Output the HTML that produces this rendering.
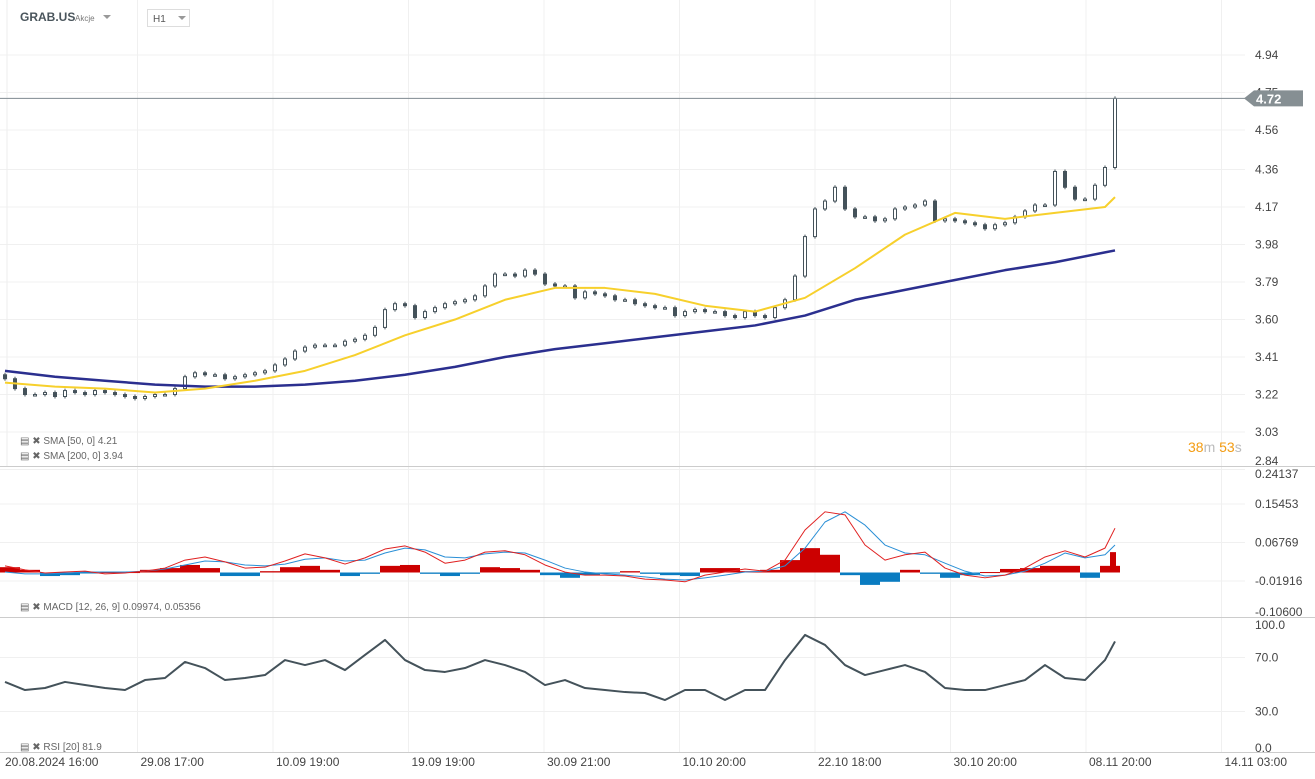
<!DOCTYPE html>
<html><head><meta charset="utf-8"><style>
body{margin:0;background:#fff;font-family:"Liberation Sans",sans-serif;}
svg{display:block}
</style></head><body>
<svg id="c" width="1315" height="779" xmlns="http://www.w3.org/2000/svg" font-family="Liberation Sans, sans-serif">
<g id="grid"></g>
<g>
 <line x1="7" y1="0" x2="7" y2="466" stroke="#eee"/>
 <text x="20" y="21" font-size="12" font-weight="bold" fill="#4a555c">GRAB.US</text>
 <text x="75" y="21" font-size="8" fill="#777">Akcje</text>
 <path d="M103 15 L111 15 L107 19 Z" fill="#999"/>
 <rect x="147.5" y="9.5" width="42" height="17" fill="#fff" stroke="#ddd"/>
 <text x="153" y="22" font-size="10" fill="#555">H1</text>
 <path d="M178 16 L186 16 L182 20 Z" fill="#999"/>
</g>
<g id="price"></g>
<g id="macd"></g>
<g id="rsi"></g>
<g id="axes"></g>
<g font-size="10" fill="#666">
 <text x="20" y="444">▤ ✖ SMA [50, 0] 4.21</text>
 <text x="20" y="459">▤ ✖ SMA [200, 0] 3.94</text>
 <text x="20" y="610">▤ ✖ MACD [12, 26, 9] 0.09974, 0.05356</text>
 <text x="20" y="750">▤ ✖ RSI [20] 81.9</text>
</g>
<g font-size="14">
 <text x="1188" y="452"><tspan fill="#f39c12">38</tspan><tspan fill="#bbb">m </tspan><tspan fill="#f39c12">53</tspan><tspan fill="#bbb">s</tspan></text>
</g>
</svg>
<script>
const closes=[3.30,3.25,3.22,3.22,3.23,3.21,3.24,3.23,3.22,3.24,3.23,3.22,3.21,3.20,3.21,3.22,3.22,3.25,3.31,3.33,3.32,3.32,3.30,3.31,3.32,3.33,3.34,3.37,3.40,3.44,3.46,3.47,3.47,3.47,3.49,3.50,3.52,3.56,3.65,3.68,3.67,3.61,3.64,3.66,3.68,3.69,3.70,3.72,3.77,3.83,3.83,3.82,3.85,3.83,3.78,3.77,3.77,3.71,3.74,3.73,3.72,3.70,3.70,3.68,3.67,3.66,3.66,3.62,3.64,3.65,3.64,3.64,3.62,3.61,3.64,3.62,3.61,3.66,3.70,3.82,4.02,4.16,4.20,4.27,4.16,4.12,4.12,4.10,4.11,4.16,4.17,4.18,4.20,4.10,4.11,4.10,4.09,4.08,4.06,4.08,4.09,4.12,4.15,4.18,4.18,4.35,4.27,4.21,4.21,4.28,4.37,4.72];
const sma50=[3.28,3.26,3.25,3.23,3.25,3.29,3.34,3.42,3.52,3.60,3.70,3.76,3.76,3.73,3.67,3.64,3.71,3.86,4.03,4.14,4.11,4.14,4.17,4.22];
const sma200=[3.34,3.31,3.29,3.27,3.26,3.26,3.27,3.29,3.32,3.36,3.41,3.45,3.48,3.51,3.54,3.57,3.62,3.70,3.75,3.80,3.85,3.89,3.94,3.95];
const macdLine=[0.015,0.006,-0.001,0.001,0.003,-0.003,-0.001,0.003,0.010,0.028,0.035,0.024,0.010,0.012,0.026,0.042,0.033,0.019,0.033,0.053,0.060,0.046,0.021,0.028,0.046,0.049,0.040,0.017,0.001,-0.006,-0.006,-0.008,-0.015,-0.017,-0.021,-0.006,0.001,0.008,0.003,0.028,0.096,0.137,0.130,0.062,0.028,0.040,0.046,0.010,-0.006,-0.012,-0.006,0.010,0.035,0.049,0.035,0.055,0.100];
const signalLine=[0.001,-0.003,-0.003,-0.001,0.001,0.001,0.001,0.003,0.008,0.017,0.026,0.024,0.017,0.015,0.019,0.030,0.033,0.026,0.028,0.044,0.055,0.051,0.035,0.033,0.042,0.046,0.044,0.028,0.010,0.001,-0.003,-0.006,-0.010,-0.015,-0.017,-0.012,-0.006,0.001,0.003,0.015,0.055,0.114,0.137,0.107,0.062,0.044,0.040,0.021,0.003,-0.008,-0.006,0.003,0.021,0.044,0.033,0.040,0.062];
const histValues=[0.012,0.006,-0.008,-0.006,-0.001,0.001,0.001,0.006,0.010,0.017,0.010,-0.008,-0.008,0.003,0.012,0.015,0.006,-0.008,-0.003,0.015,0.017,-0.003,-0.008,-0.003,0.012,0.010,0.006,-0.006,-0.012,-0.006,-0.001,0.003,-0.003,-0.006,-0.008,0.010,0.010,0.003,0.006,0.028,0.055,0.040,-0.006,-0.028,-0.021,0.006,-0.003,-0.012,-0.006,0.001,0.008,0.010,0.015,0.015,-0.012,0.015,0.046];
const rsiValues=[51.9,45.9,47.4,51.9,49.6,47.4,45.9,53.3,54.8,66.7,62.2,53.3,54.8,57.0,68.1,64.4,68.1,60.7,71.9,83.0,68.1,60.7,59.3,62.2,68.1,64.4,59.3,49.6,53.3,47.4,45.9,44.4,43.7,38.5,45.9,45.9,38.5,45.9,45.9,68.1,86.7,79.3,64.4,57.0,60.7,64.4,59.3,47.4,45.9,45.9,49.6,53.3,64.4,54.8,53.3,68.1,81.9];
const priceTicks=["4.94","4.75","4.56","4.36","4.17","3.98","3.79","3.60","3.41","3.22","3.03","2.84"];
const macdTicks=["0.24137","0.15453","0.06769","-0.01916","-0.10600"];
const rsiTicks=["100.0","70.0","30.0","0.0"];
const dateLabels=["20.08.2024  16:00","29.08  17:00","10.09  19:00","19.09  19:00","30.09  21:00","10.10  20:00","22.10  18:00","30.10  20:00","08.11  20:00","14.11  03:00"];
const lastPrice=4.72;

const NS="http://www.w3.org/2000/svg";
function mk(parent,tag,attrs){const e=document.createElementNS(NS,tag);for(const k in attrs)e.setAttribute(k,attrs[k]);parent.appendChild(e);return e;}
const N=closes.length;
const xIdx=i=>5+i*10;
const yP=p=>55+(4.94-p)*197.4;
const yM=v=>572.5-v*443;
const yR=v=>752-v*1.35;
const smaIdx=i=>Math.min(i*5,N-1);
const subIdx=i=>Math.min(i*2,N-1);

const grid=document.getElementById('grid'),axes=document.getElementById('axes');
dateLabels.forEach((d,i)=>{
  const x=5+i*135.5;
  if(i>0){const l=mk(grid,'line',{x1:x-3,y1:0,x2:x-3,y2:752,stroke:'#f0f0f0'});
  
  }
  const t=mk(axes,'text',{x:x,y:766,'font-size':12,fill:'#444','xml:space':'preserve'});t.textContent=d;
  
  
});
priceTicks.forEach(s=>{
  const y=yP(parseFloat(s));
  const l=mk(grid,'line',{x1:0,y1:y,x2:1245,y2:y,stroke:'#f0f0f0'});
  
  
  const t=mk(axes,'text',{x:1255,y:Math.min(y+4,465),'font-size':12,fill:'#444'});t.textContent=s;
  
  
});
macdTicks.forEach((s,i)=>{
  const v=parseFloat(s);const y=yM(v);
  if(i>0&&i<4){const l=mk(grid,'line',{x1:0,y1:y,x2:1245,y2:y,stroke:'#f0f0f0'});
  
  }
  const t=mk(axes,'text',{x:1255,y:Math.max(Math.min(y+4,616),478),'font-size':12,fill:'#444'});t.textContent=s;
  
  
});
rsiTicks.forEach((s,i)=>{
  const v=parseFloat(s);const y=yR(v);
  if(i==1||i==2){const l=mk(grid,'line',{x1:0,y1:y,x2:1245,y2:y,stroke:'#f0f0f0'});
  
  }
  const t=mk(axes,'text',{x:1255,y:i==0?629:Math.min(y+4,752),'font-size':12,fill:'#444'});t.textContent=s;
  
  
});
[466,617,752].forEach(y=>{const l=mk(axes,'line',{x1:0,y1:y+0.5,x2:1315,y2:y+0.5,stroke:'#ccc'});
  
  });

const price=document.getElementById('price');
closes.forEach((c,i)=>{
  const o=i?closes[i-1]:c+0.02;
  const yo=yP(o),yc=yP(c),x=xIdx(i);
  const top=Math.min(yo,yc),bot=Math.max(yo,yc);
  const w=mk(price,'line',{x1:x,y1:top-2,x2:x,y2:bot+2,stroke:'#44525a'});
  
  
  const r=mk(price,'rect',{x:x-1.5,y:top,width:3,height:Math.max(bot-top,1.5),fill:c>=o?'#fff':'#44525a',stroke:'#44525a','stroke-width':1});
  
  
});
function line(parent,arr,xf,yf,color,w,name){
  const pts=arr.map((v,i)=>xf(i)+','+yf(v)).join(' ');
  const p=mk(parent,'polyline',{points:pts,fill:'none',stroke:color,'stroke-width':w,'stroke-linejoin':'round'});
  
  
}
line(price,sma200,i=>xIdx(smaIdx(i)),yP,'#2b2f8f',2.5,'sma200-line');
line(price,sma50,i=>xIdx(smaIdx(i)),yP,'#f7d02c',2,'sma50-line');
const lp=yP(lastPrice);
const pl=mk(price,'line',{x1:0,y1:lp,x2:1245,y2:lp,stroke:'#7f8a90'});


const pb=mk(axes,'path',{d:`M1244 ${lp} L1254 ${lp-8} L1303 ${lp-8} L1303 ${lp+8} L1254 ${lp+8} Z`,fill:'#868f93'});


const pt=mk(axes,'text',{x:1256,y:lp+5,'font-size':13,'font-weight':'bold',fill:'#fff'});pt.textContent=lastPrice.toFixed(2);



const macd=document.getElementById('macd');
histValues.forEach((v,i)=>{
  const idx=subIdx(i);const x=xIdx(idx)-5;const w=i<histValues.length-1?20:6;
  const y0=yM(0),y1=yM(v);
  const r=mk(macd,'rect',{x:x,y:Math.min(y0,y1),width:w,height:Math.max(Math.abs(y1-y0),1),fill:v>=0?'#cc0000':'#0a7cc1'});
  
  
});
line(macd,signalLine,i=>xIdx(subIdx(i)),yM,'#2a8fd6',1,'signal-line');
line(macd,macdLine,i=>xIdx(subIdx(i)),yM,'#e02020',1,'macd-line');

const rsi=document.getElementById('rsi');
line(rsi,rsiValues,i=>xIdx(subIdx(i)),yR,'#44525a',2,'rsi-line');
</script>
</body></html>
